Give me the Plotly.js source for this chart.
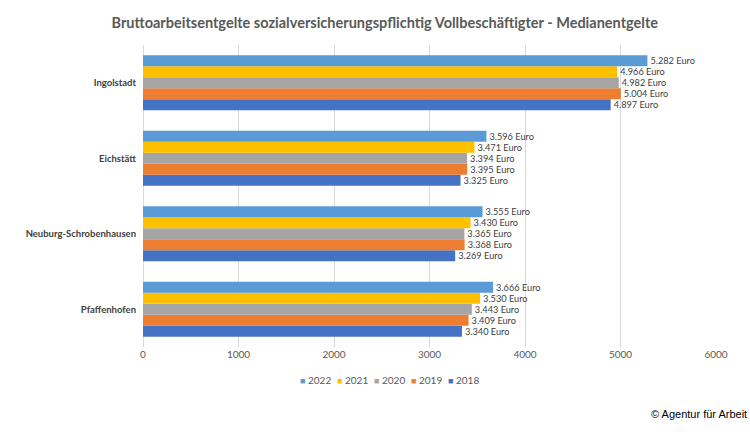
<!DOCTYPE html>
<html>
<head>
<meta charset="utf-8">
<script src="https://cdn.plot.ly/plotly-3.0.1.min.js"></script>
<style>html,body{margin:0;padding:0;background:#fff;}#chart{width:750px;height:432px;}</style>
</head>
<body>
<div id="chart"></div>
<script>
const categories = ["Ingolstadt", "Eichstätt", "Neuburg-Schrobenhausen", "Pfaffenhofen"];
const years = ["2018", "2019", "2020", "2021", "2022"];
const v2022 = [5282, 3596, 3555, 3666];
const v2021 = [4966, 3471, 3430, 3530];
const v2020 = [4982, 3394, 3365, 3443];
const v2019 = [5004, 3395, 3368, 3409];
const v2018 = [4897, 3325, 3269, 3340];
const seriesValues = [v2018, v2019, v2020, v2021, v2022];
const colors = ["#4472C4", "#ED7D31", "#A5A5A5", "#FFC000", "#5B9BD5"];
const xTicks = [0, 1000, 2000, 3000, 4000, 5000, 6000];

const FONT = "Lato, 'Open Sans', sans-serif";
const traces = years.map((y, i) => ({
  type: "bar",
  orientation: "h",
  name: y,
  y: categories,
  x: seriesValues[i],
  marker: {color: colors[i]},
  texttemplate: "%{x:,.0f} Euro",
  textposition: "outside",
  textfont: {family: FONT, size: 10, color: "#404040"},
  cliponaxis: false,
  showlegend: false,
  hoverinfo: "x+name"
}));

// plot area geometry in pixels (for placing legend / footer annotations)
const L = 143, R = 716, T = 45, B = 347;
const px = x => (x - L) / (R - L);
const py = y => (B - y) / (B - T);

// legend entries, 2022 first (as in the reference)
const legendOrder = [4, 3, 2, 1, 0];
const legendX = [298, 335, 372, 409, 446];
const legendAnn = legendOrder.map((idx, k) => ({
  text: `<span style="color:${colors[idx]};font-size:9px">■</span> ${years[idx]}`,
  xref: "paper", yref: "paper",
  x: px(legendX[k]), xanchor: "left",
  y: py(380), yanchor: "middle",
  showarrow: false,
  font: {family: FONT, size: 10, color: "#595959"}
}));

const layout = {
  width: 750, height: 432,
  margin: {l: L, r: 750 - R, t: T, b: 432 - B},
  separators: ",.",
  barmode: "group",
  bargap: 0.27,
  bargroupgap: 0,
  paper_bgcolor: "#fff",
  plot_bgcolor: "#fff",
  font: {family: FONT, color: "#595959"},
  title: {
    text: "<b>Bruttoarbeitsentgelte sozialversicherungspflichtig Vollbeschäftigter - Medianentgelte</b>",
    font: {family: FONT, size: 14.5, color: "#595959"},
    x: 0.513, xanchor: "center", y: 0.947, yanchor: "middle"
  },
  xaxis: {
    range: [0, 6000],
    tickvals: xTicks,
    ticktext: xTicks.map(String),
    showgrid: true, gridcolor: "#D9D9D9", gridwidth: 1,
    zeroline: true, zerolinecolor: "#D9D9D9",
    showline: false,
    ticks: "",
    tickfont: {family: FONT, size: 10, color: "#595959"},
    fixedrange: true
  },
  yaxis: {
    type: "category",
    categoryorder: "array",
    categoryarray: categories.slice().reverse(),
    showgrid: false, zeroline: false, showline: false,
    ticks: "",
    ticklabelstandoff: 6,
    tickfont: {family: FONT, size: 9.5, color: "#404040", weight: "bold"},
    fixedrange: true
  },
  showlegend: false,
  annotations: legendAnn.concat([{
    text: "© Agentur für Arbeit",
    xref: "paper", yref: "paper",
    x: px(749), xanchor: "right",
    y: py(414), yanchor: "middle",
    showarrow: false,
    font: {family: "'Liberation Sans', Arial, sans-serif", size: 11, color: "#000"}
  }])
};

Plotly.newPlot("chart", traces, layout, {displayModeBar: false, staticPlot: true});
</script>
</body>
</html>
